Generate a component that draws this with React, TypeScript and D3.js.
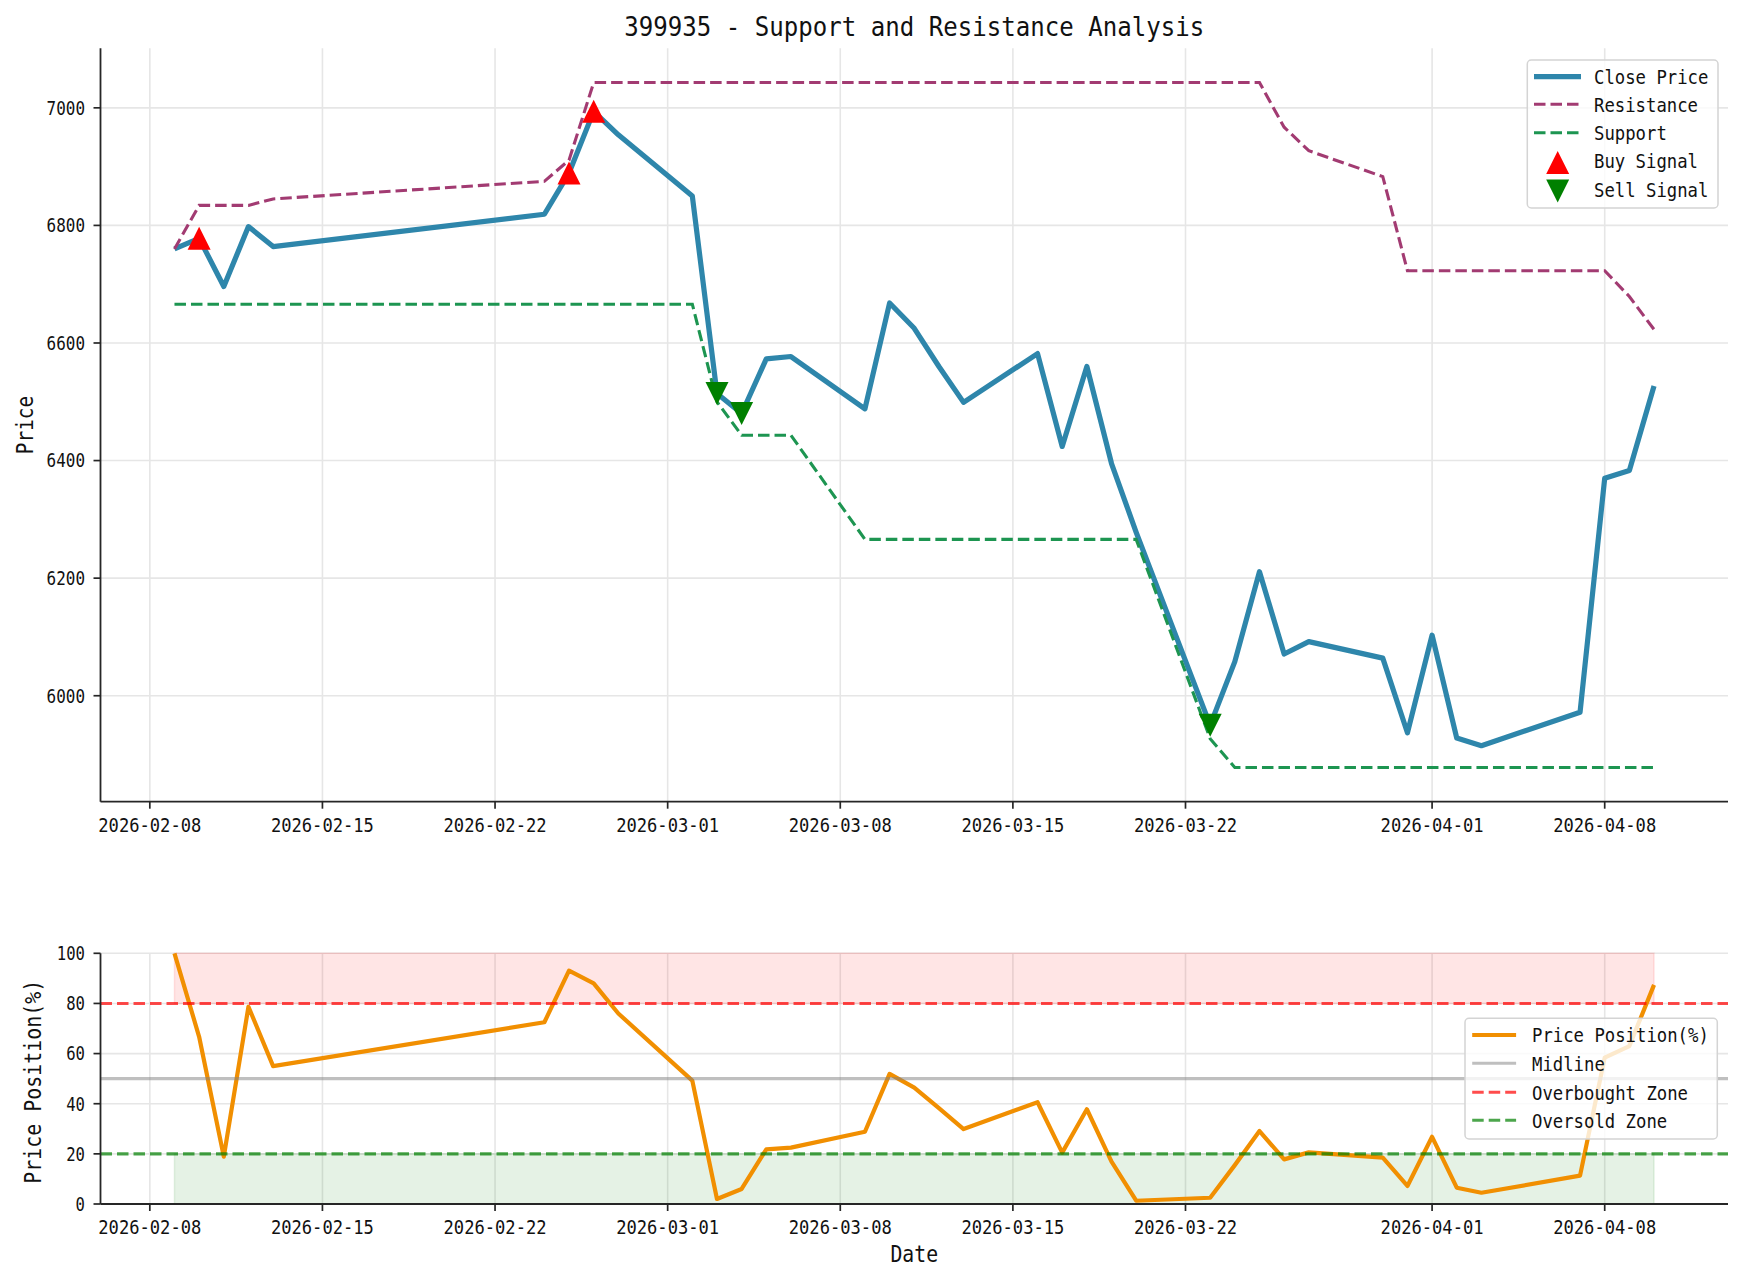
import React from "react";
import * as d3 from "d3";

// trading days (holidays skipped)
const dates = [
  "2026-02-09", "2026-02-10", "2026-02-11", "2026-02-12", "2026-02-13",
  "2026-02-24", "2026-02-25", "2026-02-26", "2026-02-27",
  "2026-03-02", "2026-03-03", "2026-03-04", "2026-03-05", "2026-03-06",
  "2026-03-09", "2026-03-10", "2026-03-11", "2026-03-12", "2026-03-13",
  "2026-03-16", "2026-03-17", "2026-03-18", "2026-03-19", "2026-03-20",
  "2026-03-23", "2026-03-24", "2026-03-25", "2026-03-26", "2026-03-27",
  "2026-03-30", "2026-03-31", "2026-04-01", "2026-04-02", "2026-04-03",
  "2026-04-07", "2026-04-08", "2026-04-09", "2026-04-10",
];

const closePrice = [
  6760, 6778, 6696, 6798, 6764,
  6819, 6889, 6994, 6954,
  6850, 6514, 6480, 6573, 6577,
  6488, 6668, 6625, 6560, 6499,
  6582, 6424, 6560, 6395, 6278,
  5950, 6058, 6211, 6071, 6092,
  6064, 5937, 6103, 5928, 5915,
  5972, 6370, 6383, 6527,
];

const resistance = [
  6760, 6834, 6834, 6834, 6845,
  6875, 6911, 7043, 7043,
  7043, 7043, 7043, 7043, 7043,
  7043, 7043, 7043, 7043, 7043,
  7043, 7043, 7043, 7043, 7043,
  7043, 7043, 7043, 6967, 6927,
  6883, 6723, 6723, 6723, 6723,
  6723, 6723, 6679, 6623,
];

const support = [
  6666, 6666, 6666, 6666, 6666,
  6666, 6666, 6666, 6666,
  6666, 6500, 6443, 6443, 6443,
  6266, 6266, 6266, 6266, 6266,
  6266, 6266, 6266, 6266, 6266,
  5927, 5878, 5878, 5878, 5878,
  5878, 5878, 5878, 5878, 5878,
  5878, 5878, 5878, 5878,
];

const pricePosition = [
  100, 66.7, 18.9, 78.7, 55,
  72.5, 93.1, 88, 76,
  49.2, 2, 6, 21.8, 22.5,
  28.8, 51.9, 46.4, 38.2, 29.9,
  40.6, 20.5, 37.8, 16.9, 1.3,
  2.5, 15.5, 29.1, 17.8, 20.6,
  18.5, 7.2, 26.8, 6.5, 4.5,
  11.3, 58.4, 63, 87.4,
];

const buyDates = ["2026-02-10", "2026-02-25", "2026-02-26"];
const sellDates = ["2026-03-03", "2026-03-04", "2026-03-23"];

const dateTicks = [
  "2026-02-08", "2026-02-15", "2026-02-22", "2026-03-01", "2026-03-08",
  "2026-03-15", "2026-03-22", "2026-04-01", "2026-04-08",
];
const priceTicks = [6000, 6200, 6400, 6600, 6800, 7000];
const positionTicks = [0, 20, 40, 60, 80, 100];

const W = 1743;
const H = 1281;
const FONT = "DejaVu Sans Mono";
const AXIS = "#262626";
const GRID = "#e6e6e6";

const parse = d3.utcParse("%Y-%m-%d");

// half-width monospace text, like SimHei latin glyphs
const MonoText = ({
  x, y, text, size, adv, anchor = "start", transform, weight,
}: {
  x: number; y: number; text: string; size: number; adv: number;
  anchor?: string; transform?: string; weight?: string;
}) => (
  <text
    x={x}
    y={y}
    fontFamily={FONT}
    fontSize={size}
    fontWeight={weight}
    textAnchor={anchor}
    textLength={text.length * adv}
    lengthAdjust="spacingAndGlyphs"
    transform={transform}
    fill="#111"
  >
    {text}
  </text>
);

const tri = (cx: number, cy: number, s: number, up: boolean) =>
  up
    ? `M${cx},${cy - s / 2}L${cx - s / 2},${cy + s / 2}L${cx + s / 2},${cy + s / 2}Z`
    : `M${cx},${cy + s / 2}L${cx - s / 2},${cy - s / 2}L${cx + s / 2},${cy - s / 2}Z`;

export default function App() {
  const pts = dates.map((d, i) => ({
    date: parse(d) as Date,
    close: closePrice[i],
    res: resistance[i],
    sup: support[i],
    pos: pricePosition[i],
  }));

  // matplotlib-like 5% margins
  const t0 = pts[0].date.getTime();
  const t1 = pts[pts.length - 1].date.getTime();
  const tPad = (t1 - t0) * 0.05;

  const plotL = 100.5;
  const plotR = 1728;
  const x = d3.scaleTime().domain([new Date(t0 - tPad), new Date(t1 + tPad)]).range([plotL, plotR]);

  const pMin = d3.min(support) as number;
  const pMax = d3.max(resistance) as number;
  const pPad = (pMax - pMin) * 0.05;
  const topT = 48.3;
  const topB = 801.7;
  const y = d3.scaleLinear().domain([pMin - pPad, pMax + pPad]).range([topB, topT]);

  const botT = 953.3;
  const botB = 1204;
  const yp = d3.scaleLinear().domain([0, 100]).range([botB, botT]);

  const lineOf = (acc: (d: any) => number, ys: d3.ScaleLinear<number, number>) =>
    d3.line<any>().x((d) => x(d.date)).y((d) => ys(acc(d)))(pts) as string;

  const band = (lo: number, hi: number) =>
    d3.area<any>().x((d) => x(d.date)).y0(yp(lo)).y1(yp(hi))(pts) as string;

  const closeOn = (ds: string) => closePrice[dates.indexOf(ds)];

  const xTicks = dateTicks.map((d) => ({ label: d, px: x(parse(d) as Date) }));

  const xAxis = (yAxisPos: number) => (
    <g>
      {xTicks.map((t) => (
        <g key={t.label}>
          <line x1={t.px} x2={t.px} y1={yAxisPos} y2={yAxisPos + 7} stroke={AXIS} strokeWidth={1.7} />
          <MonoText x={t.px} y={yAxisPos + 30} text={t.label} size={20} adv={10.3} anchor="middle" />
        </g>
      ))}
    </g>
  );

  const dash = "11.5,5";

  return (
    <svg width={W} height={H} style={{ position: "absolute", left: 0, top: 0, background: "#fff" }}>
      <rect width={W} height={H} fill="#fff" />

      {/* ---------- top panel ---------- */}
      <g>
        {xTicks.map((t) => (
          <line key={t.label} x1={t.px} x2={t.px} y1={topT} y2={topB} stroke={GRID} strokeWidth={1.6} />
        ))}
        {priceTicks.map((v) => (
          <line key={v} x1={plotL} x2={plotR} y1={y(v)} y2={y(v)} stroke={GRID} strokeWidth={1.6} />
        ))}

        <path d={lineOf((d) => d.close, y)} fill="none" stroke="#2E86AB" strokeWidth={5.2} strokeLinejoin="round" />
        <path d={lineOf((d) => d.res, y)} fill="none" stroke="#A23B72" strokeWidth={3.1} strokeDasharray={dash} />
        <path d={lineOf((d) => d.sup, y)} fill="none" stroke="#1d9551" strokeWidth={3.1} strokeDasharray={dash} />

        {buyDates.map((d) => (
          <path key={d} d={tri(x(parse(d) as Date), y(closeOn(d)), 23, true)} fill="#ff0000" />
        ))}
        {sellDates.map((d) => (
          <path key={d} d={tri(x(parse(d) as Date), y(closeOn(d)), 23, false)} fill="#008000" />
        ))}

        {/* spines */}
        <line x1={plotL} x2={plotL} y1={topT} y2={topB} stroke={AXIS} strokeWidth={1.8} />
        <line x1={plotL} x2={plotR} y1={topB} y2={topB} stroke={AXIS} strokeWidth={1.8} />
        {priceTicks.map((v) => (
          <g key={v}>
            <line x1={plotL - 7} x2={plotL} y1={y(v)} y2={y(v)} stroke={AXIS} strokeWidth={1.7} />
            <MonoText x={85} y={y(v) + 6.8} text={String(v)} size={19} adv={9.6} anchor="end" />
          </g>
        ))}
        {xAxis(topB)}

        <MonoText
          x={0}
          y={0}
          text="Price"
          size={23}
          adv={11.7}
          anchor="middle"
          transform={`translate(33,${(topT + topB) / 2}) rotate(-90)`}
        />
        <MonoText x={(plotL + plotR) / 2} y={36} text="399935 - Support and Resistance Analysis" size={27} adv={14.5} anchor="middle" />

        {/* legend */}
        <rect x={1527.3} y={60} width={190.7} height={148} rx={4} fill="#fff" fillOpacity={0.8} stroke="#d4d4d4" strokeWidth={1.5} />
        <line x1={1534} x2={1581} y1={76.7} y2={76.7} stroke="#2E86AB" strokeWidth={5.2} />
        <line x1={1534} x2={1581} y1={104.3} y2={104.3} stroke="#A23B72" strokeWidth={3.1} strokeDasharray={dash} />
        <line x1={1534} x2={1581} y1={132.7} y2={132.7} stroke="#1d9551" strokeWidth={3.1} strokeDasharray={dash} />
        <path d={tri(1557.7, 162.5, 23, true)} fill="#ff0000" />
        <path d={tri(1557.7, 191, 23, false)} fill="#008000" />
        {["Close Price", "Resistance", "Support", "Buy Signal", "Sell Signal"].map((s, i) => (
          <MonoText key={s} x={1594} y={[76.7, 104.3, 132.7, 161, 189.7][i] + 7.3} text={s} size={20} adv={10.4} />
        ))}
      </g>

      {/* ---------- bottom panel ---------- */}
      <g>
        {xTicks.map((t) => (
          <line key={t.label} x1={t.px} x2={t.px} y1={botT} y2={botB} stroke={GRID} strokeWidth={1.6} />
        ))}
        {positionTicks.map((v) => (
          <line key={v} x1={plotL} x2={plotR} y1={yp(v)} y2={yp(v)} stroke={GRID} strokeWidth={1.6} />
        ))}

        <path d={band(80, 100)} fill="#ff0000" fillOpacity={0.1} stroke="#ff0000" strokeOpacity={0.1} strokeWidth={1.5} />
        <path d={band(0, 20)} fill="#008000" fillOpacity={0.1} stroke="#008000" strokeOpacity={0.1} strokeWidth={1.5} />

        <path d={lineOf((d) => d.pos, yp)} fill="none" stroke="#F18F01" strokeWidth={4.2} strokeLinejoin="round" />
        <line x1={plotL} x2={plotR} y1={yp(50)} y2={yp(50)} stroke="#808080" strokeOpacity={0.5} strokeWidth={3.1} />
        <line x1={plotL} x2={plotR} y1={yp(80)} y2={yp(80)} stroke="#ff0000" strokeOpacity={0.7} strokeWidth={3.1} strokeDasharray={dash} />
        <line x1={plotL} x2={plotR} y1={yp(20)} y2={yp(20)} stroke="#008000" strokeOpacity={0.7} strokeWidth={3.1} strokeDasharray={dash} />

        <line x1={plotL} x2={plotL} y1={botT} y2={botB} stroke={AXIS} strokeWidth={1.8} />
        <line x1={plotL} x2={plotR} y1={botB} y2={botB} stroke={AXIS} strokeWidth={1.8} />
        {positionTicks.map((v) => (
          <g key={v}>
            <line x1={plotL - 7} x2={plotL} y1={yp(v)} y2={yp(v)} stroke={AXIS} strokeWidth={1.7} />
            <MonoText x={85} y={yp(v) + 6.8} text={String(v)} size={19} adv={9.4} anchor="end" />
          </g>
        ))}
        {xAxis(botB)}

        <MonoText
          x={0}
          y={0}
          text="Price Position(%)"
          size={23}
          adv={12}
          anchor="middle"
          transform={`translate(41,${(botT + botB) / 2 + 3}) rotate(-90)`}
        />
        <MonoText x={(plotL + plotR) / 2} y={1261.5} text="Date" size={23} adv={11.9} anchor="middle" />

        {/* legend */}
        <rect x={1465} y={1018.3} width={252.3} height={120.7} rx={4} fill="#fff" fillOpacity={0.8} stroke="#d4d4d4" strokeWidth={1.5} />
        <line x1={1472.2} x2={1516.1} y1={1035} y2={1035} stroke="#F18F01" strokeWidth={4.2} />
        <line x1={1472.2} x2={1516.1} y1={1063.3} y2={1063.3} stroke="#808080" strokeOpacity={0.5} strokeWidth={3.1} />
        <line x1={1472.2} x2={1516.1} y1={1092.3} y2={1092.3} stroke="#ff0000" strokeOpacity={0.7} strokeWidth={3.1} strokeDasharray={dash} />
        <line x1={1472.2} x2={1516.1} y1={1120.3} y2={1120.3} stroke="#008000" strokeOpacity={0.7} strokeWidth={3.1} strokeDasharray={dash} />
        {["Price Position(%)", "Midline", "Overbought Zone", "Oversold Zone"].map((s, i) => (
          <MonoText key={s} x={1532} y={[1035, 1063.3, 1092.3, 1120.3][i] + 7.3} text={s} size={20} adv={10.4} />
        ))}
      </g>
    </svg>
  );
}
